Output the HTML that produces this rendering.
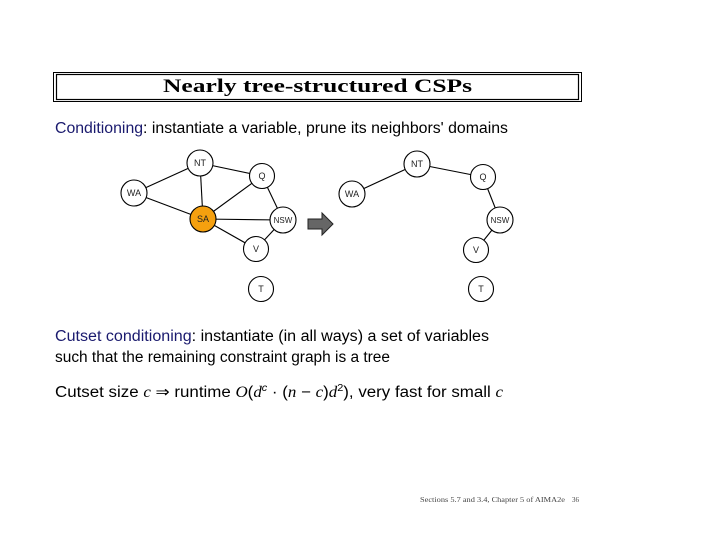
<!DOCTYPE html>
<html><head><meta charset="utf-8"><style>html,body{margin:0;padding:0;background:#fff;}svg{display:block}</style></head>
<body>
<svg width="720" height="540" viewBox="0 0 720 540" xmlns="http://www.w3.org/2000/svg">
<rect x="0" y="0" width="720" height="540" fill="#fff"/>
<rect x="53.5" y="72.5" width="528" height="29" fill="none" stroke="#000" stroke-width="1"/>
<rect x="56.5" y="74.5" width="522" height="25" fill="none" stroke="#000" stroke-width="1.2"/>
<text x="163" y="92" font-family="Liberation Serif, serif" font-weight="bold" font-size="19" textLength="309" lengthAdjust="spacingAndGlyphs">Nearly tree-structured CSPs</text>
<g font-family="Liberation Sans, sans-serif" font-size="15.5">
<text x="55" y="133" textLength="453" lengthAdjust="spacingAndGlyphs"><tspan fill="#1a1a6e">Conditioning</tspan>: instantiate a variable, prune its neighbors' domains</text>
<text x="55" y="341" textLength="434" lengthAdjust="spacingAndGlyphs"><tspan fill="#1a1a6e">Cutset conditioning</tspan>: instantiate (in all ways) a set of variables</text>
<text x="55" y="362" textLength="335" lengthAdjust="spacingAndGlyphs">such that the remaining constraint graph is a tree</text>
<text x="55" y="397" textLength="448" lengthAdjust="spacingAndGlyphs">Cutset size <tspan font-family="Liberation Serif, serif" font-style="italic">c</tspan>  ⇒   runtime <tspan font-family="Liberation Serif, serif" font-style="italic">O</tspan>(<tspan font-family="Liberation Serif, serif" font-style="italic">d</tspan><tspan font-size="10" dy="-6" font-style="italic">c</tspan><tspan dy="6"> · (</tspan><tspan font-family="Liberation Serif, serif" font-style="italic">n</tspan> − <tspan font-family="Liberation Serif, serif" font-style="italic">c</tspan>)<tspan font-family="Liberation Serif, serif" font-style="italic">d</tspan><tspan font-size="10" dy="-6">2</tspan><tspan dy="6">), very fast for small </tspan><tspan font-family="Liberation Serif, serif" font-style="italic">c</tspan></text>
</g>
<text x="420" y="502" font-family="Liberation Serif, serif" font-size="7" fill="#444" textLength="145" lengthAdjust="spacingAndGlyphs">Sections 5.7 and 3.4, Chapter 5 of AIMA2e</text>
<text x="572" y="502" font-family="Liberation Serif, serif" font-size="7" fill="#444">36</text>
<g stroke="#000" stroke-width="1.1">
<line x1="134" y1="193" x2="200" y2="163"/>
<line x1="134" y1="193" x2="203" y2="219"/>
<line x1="200" y1="163" x2="262" y2="176"/>
<line x1="200" y1="163" x2="203" y2="219"/>
<line x1="262" y1="176" x2="203" y2="219"/>
<line x1="262" y1="176" x2="283" y2="220"/>
<line x1="203" y1="219" x2="283" y2="220"/>
<line x1="203" y1="219" x2="256" y2="249"/>
<line x1="283" y1="220" x2="256" y2="249"/>
<line x1="352" y1="194" x2="417" y2="164"/>
<line x1="417" y1="164" x2="483" y2="177"/>
<line x1="483" y1="177" x2="500" y2="220"/>
<line x1="500" y1="220" x2="476" y2="250"/>
</g>
<g stroke="#000" stroke-width="1.1" fill="#fff">
<circle cx="200" cy="163" r="13"/>
<circle cx="262" cy="176" r="12.5"/>
<circle cx="134" cy="193" r="13"/>
<circle cx="203" cy="219" r="13" fill="#f5a00f"/>
<circle cx="283" cy="220" r="13"/>
<circle cx="256" cy="249" r="12.5"/>
<circle cx="261" cy="289" r="12.5"/>
<circle cx="417" cy="164" r="13"/>
<circle cx="483" cy="177" r="12.5"/>
<circle cx="352" cy="194" r="13"/>
<circle cx="500" cy="220" r="13"/>
<circle cx="476" cy="250" r="12.5"/>
<circle cx="481" cy="289" r="12.5"/>
</g>
<g font-family="Liberation Sans, sans-serif" font-size="9" text-anchor="middle" fill="#222">
<text x="200" y="166">NT</text><text x="262" y="179">Q</text><text x="134" y="196">WA</text>
<text x="203" y="222">SA</text><text x="283" y="223" font-size="8">NSW</text><text x="256" y="252">V</text><text x="261" y="292">T</text>
<text x="417" y="167">NT</text><text x="483" y="180">Q</text><text x="352" y="197">WA</text>
<text x="500" y="223" font-size="8">NSW</text><text x="476" y="253">V</text><text x="481" y="292">T</text>
</g>
<polygon points="308,219 322,219 322,213 333,224 322,235 322,229 308,229" fill="#666" stroke="#222" stroke-width="1"/>
</svg>
</body></html>
